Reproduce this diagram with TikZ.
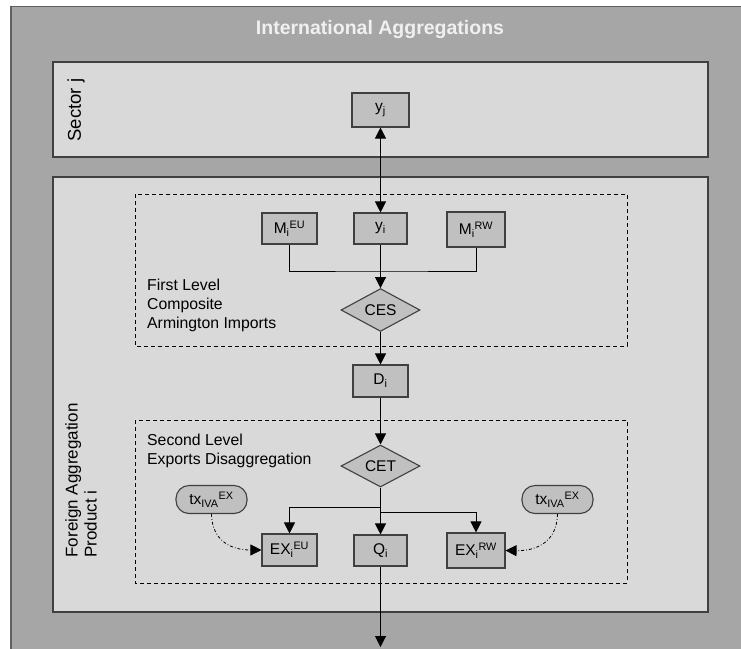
\documentclass[tikz,border=0pt]{standalone}
\usepackage{fontspec}
\setmainfont{Liberation Sans}
\usetikzlibrary{shapes.geometric,arrows.meta}
\definecolor{outergray}{HTML}{A6A6A6}
\definecolor{framegray}{HTML}{606060}
\definecolor{panelgray}{HTML}{D9D9D9}
\definecolor{boxgray}{HTML}{C0C0C0}
\definecolor{edgegray}{HTML}{404040}

\begin{document}
\begin{tikzpicture}[x=1pt,y=-1pt,
    panel/.style={draw=edgegray,fill=panelgray,line width=1.4pt},
    level/.style={draw=black,dashed,dash pattern=on 4pt off 3pt,line width=.8pt},
    var/.style={draw=edgegray,fill=boxgray,line width=1.1pt,minimum width=55pt,minimum height=32pt,
      inner sep=1pt,font=\fontsize{15.5}{17}\selectfont},
    widevar/.style={var,minimum width=58pt,minimum height=35pt},
    fun/.style={diamond,draw=edgegray,fill=boxgray,line width=1.1pt,minimum width=79pt,minimum height=38pt,
      inner sep=0pt,font=\fontsize{15.5}{17}\selectfont},
    tax/.style={draw=edgegray,fill=boxgray,line width=1.1pt,rounded corners=13pt,minimum width=71pt,
      minimum height=28pt,inner sep=1pt,font=\fontsize{15.5}{17}\selectfont},
    lbl/.style={align=left,inner sep=0pt,font=\fontsize{15.8}{19}\selectfont},
    arr/.style={line width=1pt,-{Triangle[length=11pt,width=11pt]}},
    dasharr/.style={line width=.8pt,dash dot,-{Triangle[length=11pt,width=11pt]}}]
  \useasboundingbox (0,0) rectangle (741,648);
  \clip (0,0) rectangle (741,648);
  \fill[white] (0,0) rectangle (741,648);
  \draw[fill=outergray,draw=framegray,line width=1.6pt] (11,6.5) rectangle (760,670);
  \node[text=white!94!black,font=\bfseries\fontsize{19.5}{21}\selectfont] (title) at (380,30) {International Aggregations};

  \draw[panel] (53,62) rectangle (708,157);
  \draw[panel] (53,177) rectangle (708,612);
  \node[rotate=90,font=\fontsize{18.5}{20}\selectfont] (sector) at (76,110) {Sector j};
  \node[rotate=90,anchor=west,align=left,font=\fontsize{17}{19}\selectfont] (product) at (81,561)
    {Foreign Aggregation\\Product i};

  \draw[level] (135,194) rectangle (627,346);
  \draw[level] (135,420) rectangle (627,583);
  \node[lbl,anchor=west] (first) at (147,305) {First Level\\Composite\\Armington Imports};
  \node[lbl,anchor=west] (second) at (147,451) {Second Level\\Exports Disaggregation};

  \node[var,minimum width=57pt,minimum height=34pt] (yj) at (380.5,110) {y\textsubscript{j}};
  \node[var,minimum height=31pt] (MEU) at (289.5,228.5) {M\textsubscript{i}\textsuperscript{EU}};
  \node[var,minimum width=53pt,minimum height=31pt] (yi) at (380.5,228.5) {y\textsubscript{i}};
  \node[widevar] (MRW) at (476,229.5) {M\textsubscript{i}\textsuperscript{RW}};
  \node[fun] (CES) at (380.5,310) {CES};
  \node[var] (Di) at (380.5,381) {D\textsubscript{i}};
  \node[fun] (CET) at (380.5,466) {CET};
  \node[var] (EXeu) at (289.5,550) {EX\textsubscript{i}\textsuperscript{EU}};
  \node[var,minimum width=53pt,minimum height=31pt] (Qi) at (380.5,550.5) {Q\textsubscript{i}};
  \node[widevar] (EXrw) at (476,550.5) {EX\textsubscript{i}\textsuperscript{RW}};
  \node[tax] (txL) at (211.5,499.5) {tx\textsubscript{IVA}\textsuperscript{EX}};
  \node[tax] (txR) at (557.5,499.5) {tx\textsubscript{IVA}\textsuperscript{EX}};

  \coordinate (join) at (380.5,271);
  \coordinate (splitL) at (380.5,507);
  \coordinate (splitR) at (380.5,512);
  \coordinate (out) at (380.5,647);

  \draw[arr,{Triangle[length=11pt,width=11pt]}-{Triangle[length=11pt,width=11pt]}] (yj) -- (yi);
  \draw[line width=1pt] (MEU.south) |- (join) -| (MRW.south);
  \draw[arr] (yi) -- (CES);
  \draw[arr] (CES) -- (Di);
  \draw[arr] (Di) -- (CET);
  \draw[arr] (CET) -- (Qi);
  \draw[arr] (splitL) -| (EXeu.north);
  \draw[arr] (splitR) -| (EXrw.north);
  \draw[arr] (Qi) -- (out);
  \draw[dasharr] (txL.south) .. controls (212,540) and (230,550) .. (EXeu.west);
  \draw[dasharr] (txR.south) .. controls (557,540) and (539,551) .. (EXrw.east);
\end{tikzpicture}
\end{document}
